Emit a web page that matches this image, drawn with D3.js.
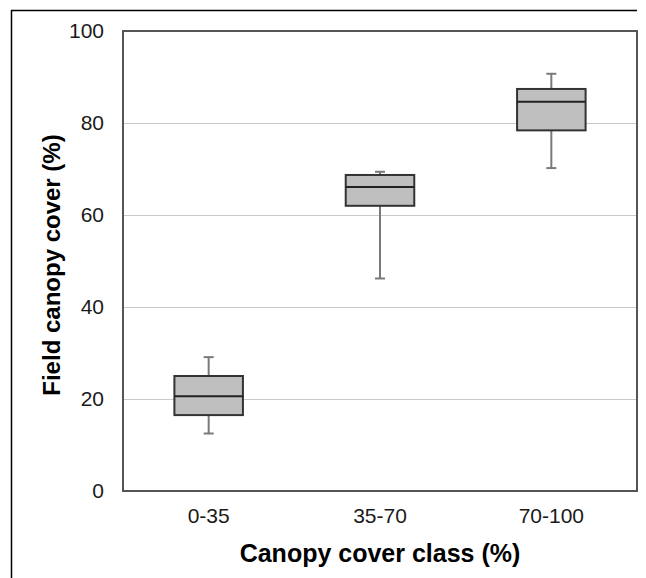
<!DOCTYPE html>
<html>
<head>
<meta charset="utf-8">
<script src="https://cdn.jsdelivr.net/npm/d3@7"></script>
<style>
  html, body { margin: 0; padding: 0; background: #fff; }
  svg { display: block; }
</style>
</head>
<body>
<svg id="chart" width="646" height="578"></svg>
<script>
const categories = ["0-35", "35-70", "70-100"];
const whiskerLow = [12.5, 46.2, 70.2];
const q1 = [16.5, 62.0, 78.4];
const median = [20.6, 66.1, 84.6];
const q3 = [25.0, 68.7, 87.4];
const whiskerHigh = [29.1, 69.4, 90.7];
const yTicks = [0, 20, 40, 60, 80, 100];
const xTitle = "Canopy cover class (%)";
const yTitle = "Field canopy cover (%)";

const svg = d3.select("#chart");
const plot = { left: 123, right: 637, top: 31, bottom: 491 };

const x = d3.scaleBand().domain(categories).range([plot.left, plot.right]).paddingInner(0).paddingOuter(0);
const y = d3.scaleLinear().domain([0, 100]).range([plot.bottom, plot.top]);

// outer frame (left and top)
svg.append("path")
  .attr("d", "M11.5,578 L11.5,10.5 L637,10.5")
  .attr("fill", "none").attr("stroke", "#000").attr("stroke-width", 1.5);

// gridlines
svg.append("g").selectAll("line")
  .data(yTicks.filter(d => d > 0 && d < 100))
  .join("line")
  .attr("x1", plot.left).attr("x2", plot.right)
  .attr("y1", d => Math.round(y(d)) + 0.5).attr("y2", d => Math.round(y(d)) + 0.5)
  .attr("stroke", "#c9c9c9").attr("stroke-width", 1.2);

// y axis labels
const yAxis = d3.axisLeft(y).tickValues(yTicks).tickSize(0).tickPadding(19).tickFormat(d3.format("d"));
const yg = svg.append("g").attr("transform", `translate(${plot.left},0)`).call(yAxis);
yg.select(".domain").remove();
yg.selectAll("text").attr("font-family", "Liberation Sans, Arial, sans-serif")
  .attr("font-size", 21).attr("fill", "#1a1a1a");

// x axis labels
const xAxis = d3.axisBottom(x).tickSize(0).tickPadding(17);
const xg = svg.append("g").attr("transform", `translate(0,${plot.bottom})`).call(xAxis);
xg.select(".domain").remove();
xg.selectAll("text").attr("font-family", "Liberation Sans, Arial, sans-serif")
  .attr("font-size", 21).attr("fill", "#1a1a1a");

// plot frame
svg.append("rect")
  .attr("x", plot.left).attr("y", plot.top)
  .attr("width", plot.right - plot.left).attr("height", plot.bottom - plot.top)
  .attr("fill", "none").attr("stroke", "#555").attr("stroke-width", 2);

// boxes
const data = categories.map((c, i) => ({
  c, lo: whiskerLow[i], q1: q1[i], med: median[i], q3: q3[i], hi: whiskerHigh[i]
}));
const boxW = x.bandwidth() * 0.4;
const capW = 10;
const g = svg.append("g").selectAll("g").data(data).join("g")
  .attr("transform", d => `translate(${x(d.c) + x.bandwidth() / 2},0)`);

// whiskers
g.append("line").attr("x1", 0).attr("x2", 0)
  .attr("y1", d => y(d.hi)).attr("y2", d => y(d.q3))
  .attr("stroke", "#7a7a7a").attr("stroke-width", 2);
g.append("line").attr("x1", 0).attr("x2", 0)
  .attr("y1", d => y(d.q1)).attr("y2", d => y(d.lo))
  .attr("stroke", "#7a7a7a").attr("stroke-width", 2);
g.append("line").attr("x1", -capW / 2).attr("x2", capW / 2)
  .attr("y1", d => y(d.hi)).attr("y2", d => y(d.hi))
  .attr("stroke", "#7a7a7a").attr("stroke-width", 2);
g.append("line").attr("x1", -capW / 2).attr("x2", capW / 2)
  .attr("y1", d => y(d.lo)).attr("y2", d => y(d.lo))
  .attr("stroke", "#7a7a7a").attr("stroke-width", 2);

// box
g.append("rect")
  .attr("x", -boxW / 2).attr("width", boxW)
  .attr("y", d => y(d.q3)).attr("height", d => y(d.q1) - y(d.q3))
  .attr("fill", "#bfbfbf").attr("stroke", "#333").attr("stroke-width", 2);
// median
g.append("line").attr("x1", -boxW / 2).attr("x2", boxW / 2)
  .attr("y1", d => y(d.med)).attr("y2", d => y(d.med))
  .attr("stroke", "#222").attr("stroke-width", 2);

// axis titles
svg.append("text")
  .attr("x", (plot.left + plot.right) / 2).attr("y", 562)
  .attr("text-anchor", "middle")
  .attr("font-family", "Liberation Sans, Arial, sans-serif")
  .attr("font-weight", "bold").attr("font-size", 25).attr("fill", "#000")
  .text(xTitle);

svg.append("text")
  .attr("transform", `translate(60,265) rotate(-90)`)
  .attr("text-anchor", "middle")
  .attr("font-family", "Liberation Sans, Arial, sans-serif")
  .attr("font-weight", "bold").attr("font-size", 24).attr("fill", "#000")
  .text(yTitle);
</script>
</body>
</html>
